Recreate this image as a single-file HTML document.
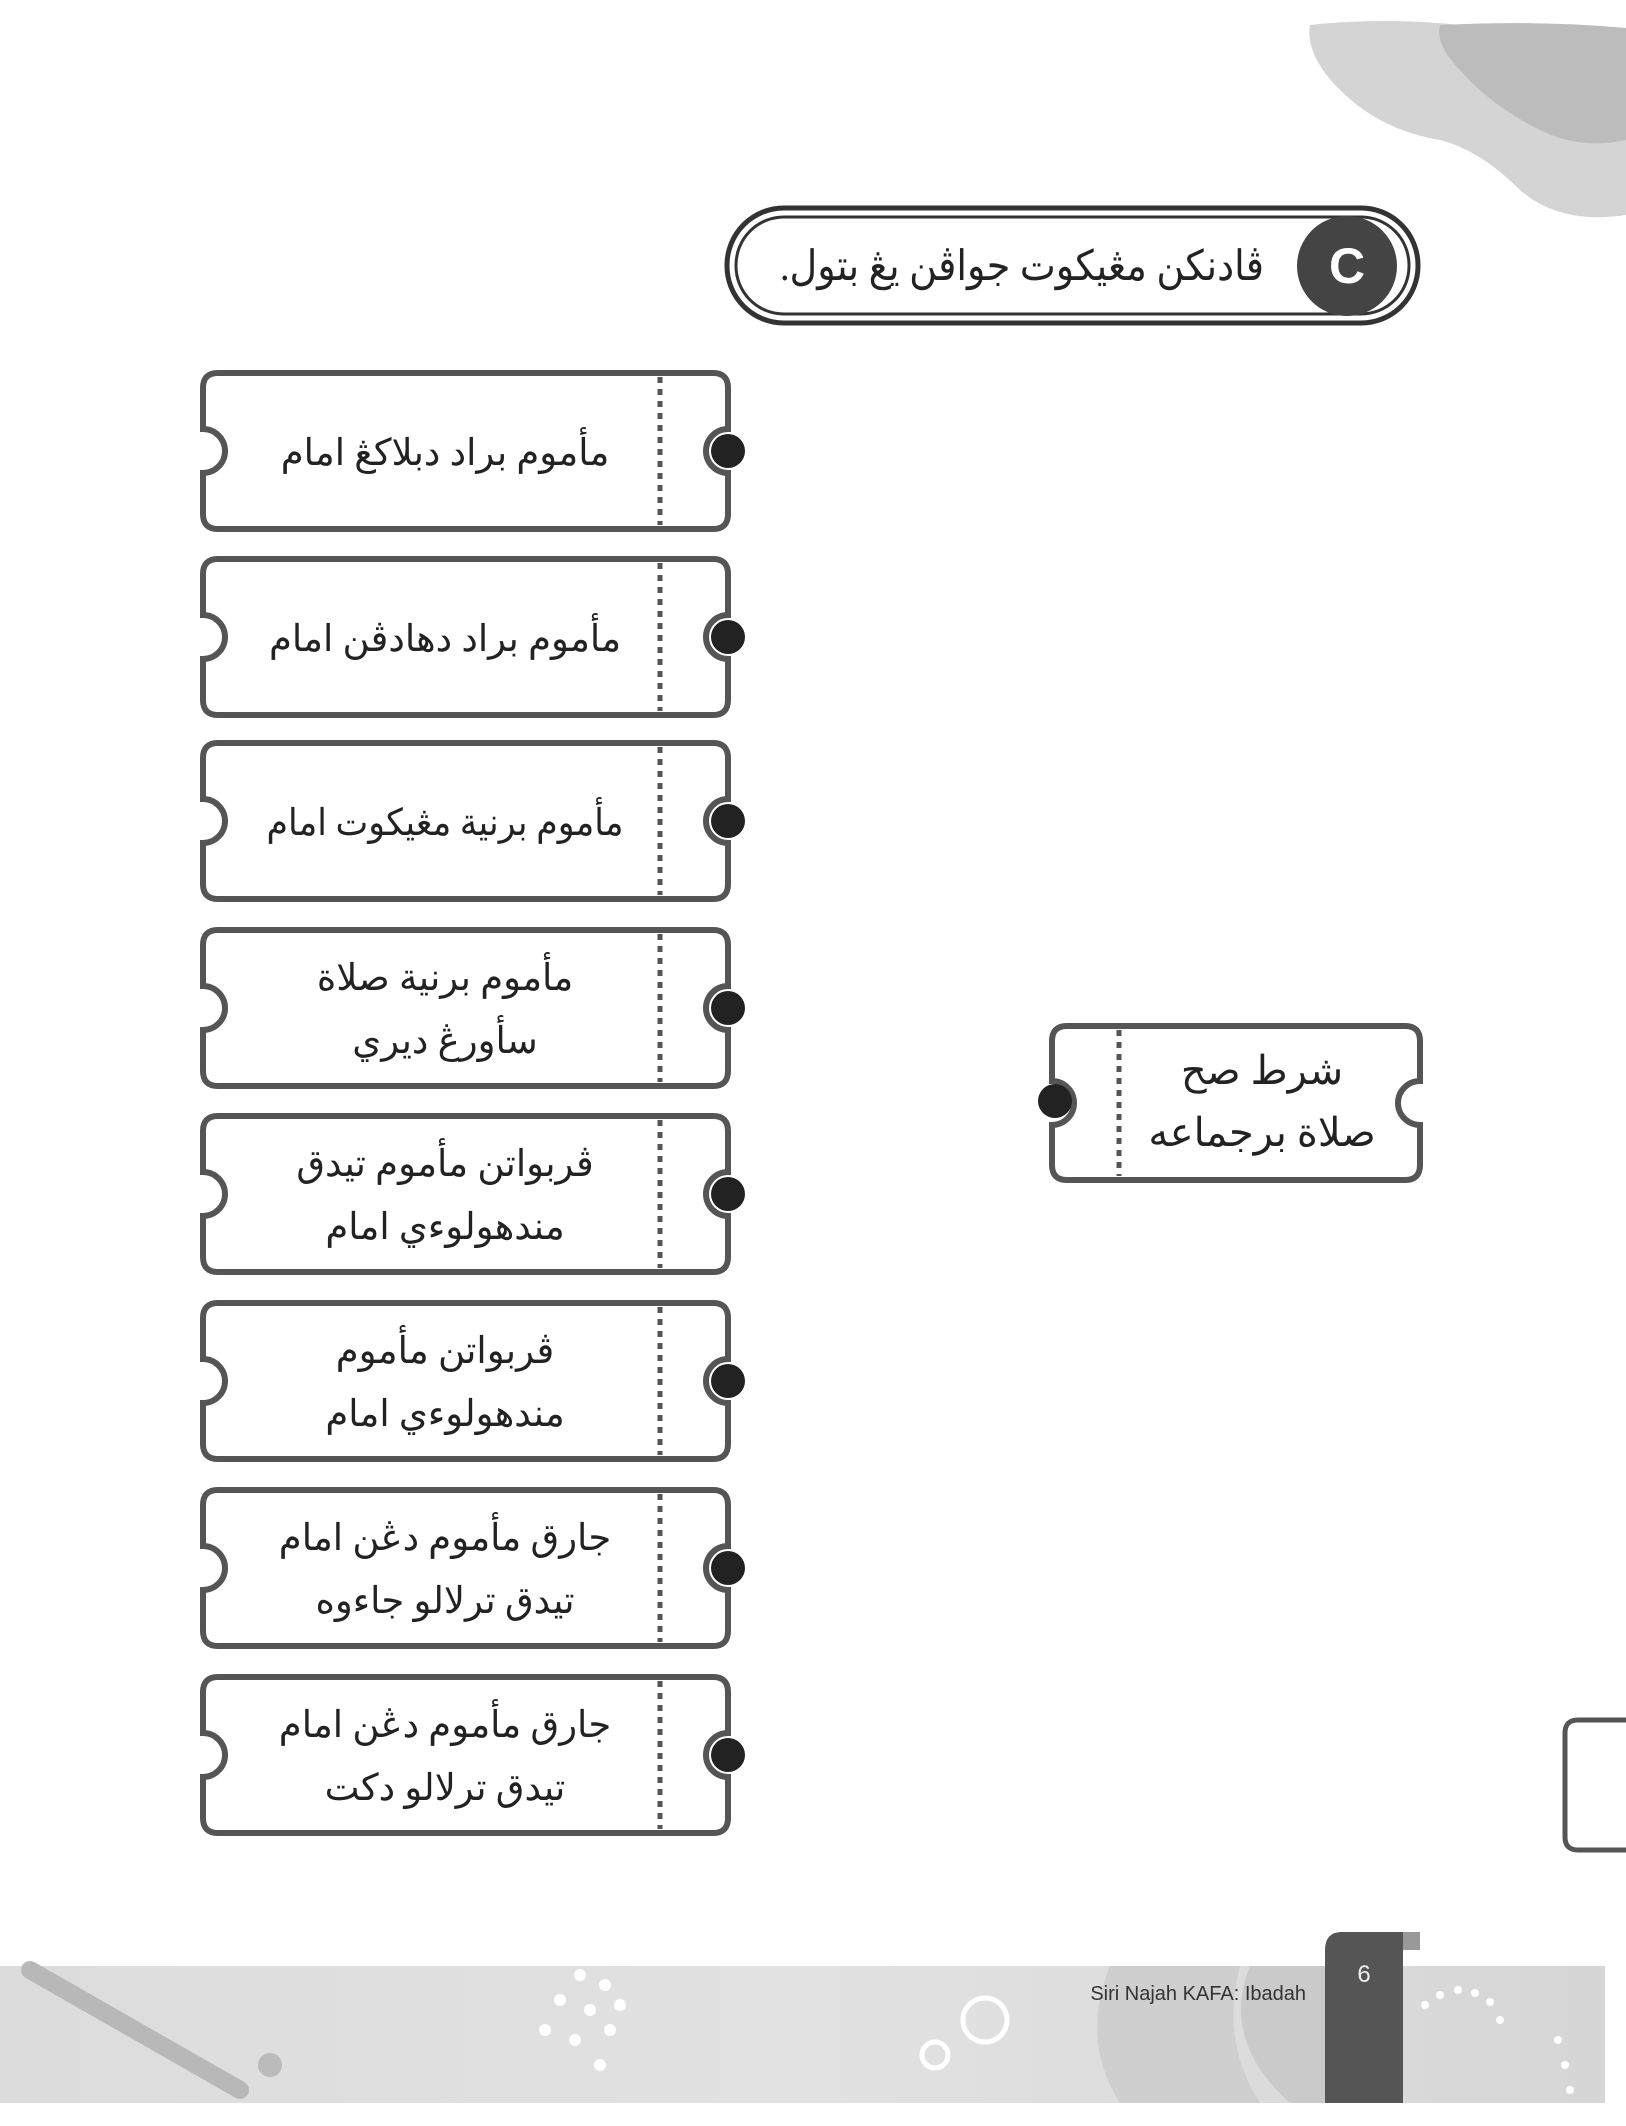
<!DOCTYPE html>
<html><head><meta charset="utf-8">
<style>
html,body{margin:0;padding:0;background:#fff;}
svg{display:block;}
.ar{font-family:"Liberation Serif","Noto Serif CJK SC","DejaVu Serif",serif;font-size:37px;fill:#222;}
</style></head>
<body>
<svg width="1626" height="2126" viewBox="0 0 1626 2126" xmlns="http://www.w3.org/2000/svg">
<defs>
<linearGradient id="bandg" x1="0" x2="1" y1="0" y2="0">
  <stop offset="0" stop-color="#dcdcdc"/><stop offset="0.5" stop-color="#e2e2e2"/><stop offset="1" stop-color="#d6d6d6"/>
</linearGradient>
</defs>

<path d="M1310 25 Q1400 15 1500 30 Q1600 40 1626 60 L1626 215 Q1560 225 1520 190 Q1480 150 1440 140 Q1380 130 1340 90 Q1305 55 1310 25 Z" fill="#d4d4d4"/>
<path d="M1440 25 Q1540 20 1626 28 L1626 140 Q1580 150 1540 130 Q1490 105 1460 70 Q1435 45 1440 25 Z" fill="#bcbcbc"/>

<rect x="727" y="208" width="691" height="115" rx="57" fill="none" stroke="#333" stroke-width="5"/>
<rect x="736" y="217" width="673" height="97" rx="48" fill="none" stroke="#333" stroke-width="3"/>
<circle cx="1347" cy="266" r="50" fill="#444"/>
<text x="1347" y="283" font-family="Liberation Sans,sans-serif" font-weight="bold" font-size="50" fill="#fff" text-anchor="middle">C</text>
<text x="1264" y="280" class="ar" style="font-size:42px" text-anchor="start" direction="rtl" textLength="484" lengthAdjust="spacingAndGlyphs">ڤادنكن مڠيكوت جواڤن يڠ بتول.</text>

<g transform="translate(0,373)">
<path d="M218 0 H713 Q728 0 728 15 V56 A22 22 0 0 0 728 100 V141 Q728 156 713 156 H218 Q203 156 203 141 V100 A22 22 0 0 0 203 56 V15 Q203 0 218 0 Z" fill="#fff" stroke="#555" stroke-width="6"/>
<line x1="660" y1="4" x2="660" y2="152" stroke="#555" stroke-width="5" stroke-dasharray="6,6"/>
<circle cx="728" cy="78" r="17" fill="#222"/>
<text x="445" y="92" class="ar" text-anchor="middle" direction="rtl">مأموم براد دبلاكڠ امام</text>
</g>
<g transform="translate(0,559)">
<path d="M218 0 H713 Q728 0 728 15 V56 A22 22 0 0 0 728 100 V141 Q728 156 713 156 H218 Q203 156 203 141 V100 A22 22 0 0 0 203 56 V15 Q203 0 218 0 Z" fill="#fff" stroke="#555" stroke-width="6"/>
<line x1="660" y1="4" x2="660" y2="152" stroke="#555" stroke-width="5" stroke-dasharray="6,6"/>
<circle cx="728" cy="78" r="17" fill="#222"/>
<text x="445" y="92" class="ar" text-anchor="middle" direction="rtl">مأموم براد دهادڤن امام</text>
</g>
<g transform="translate(0,743)">
<path d="M218 0 H713 Q728 0 728 15 V56 A22 22 0 0 0 728 100 V141 Q728 156 713 156 H218 Q203 156 203 141 V100 A22 22 0 0 0 203 56 V15 Q203 0 218 0 Z" fill="#fff" stroke="#555" stroke-width="6"/>
<line x1="660" y1="4" x2="660" y2="152" stroke="#555" stroke-width="5" stroke-dasharray="6,6"/>
<circle cx="728" cy="78" r="17" fill="#222"/>
<text x="445" y="92" class="ar" text-anchor="middle" direction="rtl" textLength="357" lengthAdjust="spacingAndGlyphs">مأموم برنية مڠيكوت امام</text>
</g>
<g transform="translate(0,930)">
<path d="M218 0 H713 Q728 0 728 15 V56 A22 22 0 0 0 728 100 V141 Q728 156 713 156 H218 Q203 156 203 141 V100 A22 22 0 0 0 203 56 V15 Q203 0 218 0 Z" fill="#fff" stroke="#555" stroke-width="6"/>
<line x1="660" y1="4" x2="660" y2="152" stroke="#555" stroke-width="5" stroke-dasharray="6,6"/>
<circle cx="728" cy="78" r="17" fill="#222"/>
<text x="445" y="60" class="ar" text-anchor="middle" direction="rtl">مأموم برنية صلاة</text>
<text x="445" y="123" class="ar" text-anchor="middle" direction="rtl">سأورڠ ديري</text>
</g>
<g transform="translate(0,1116)">
<path d="M218 0 H713 Q728 0 728 15 V56 A22 22 0 0 0 728 100 V141 Q728 156 713 156 H218 Q203 156 203 141 V100 A22 22 0 0 0 203 56 V15 Q203 0 218 0 Z" fill="#fff" stroke="#555" stroke-width="6"/>
<line x1="660" y1="4" x2="660" y2="152" stroke="#555" stroke-width="5" stroke-dasharray="6,6"/>
<circle cx="728" cy="78" r="17" fill="#222"/>
<text x="445" y="60" class="ar" text-anchor="middle" direction="rtl">ڤربواتن مأموم تيدق</text>
<text x="445" y="123" class="ar" text-anchor="middle" direction="rtl">مندهولوءي امام</text>
</g>
<g transform="translate(0,1303)">
<path d="M218 0 H713 Q728 0 728 15 V56 A22 22 0 0 0 728 100 V141 Q728 156 713 156 H218 Q203 156 203 141 V100 A22 22 0 0 0 203 56 V15 Q203 0 218 0 Z" fill="#fff" stroke="#555" stroke-width="6"/>
<line x1="660" y1="4" x2="660" y2="152" stroke="#555" stroke-width="5" stroke-dasharray="6,6"/>
<circle cx="728" cy="78" r="17" fill="#222"/>
<text x="445" y="60" class="ar" text-anchor="middle" direction="rtl">ڤربواتن مأموم</text>
<text x="445" y="123" class="ar" text-anchor="middle" direction="rtl">مندهولوءي امام</text>
</g>
<g transform="translate(0,1490)">
<path d="M218 0 H713 Q728 0 728 15 V56 A22 22 0 0 0 728 100 V141 Q728 156 713 156 H218 Q203 156 203 141 V100 A22 22 0 0 0 203 56 V15 Q203 0 218 0 Z" fill="#fff" stroke="#555" stroke-width="6"/>
<line x1="660" y1="4" x2="660" y2="152" stroke="#555" stroke-width="5" stroke-dasharray="6,6"/>
<circle cx="728" cy="78" r="17" fill="#222"/>
<text x="445" y="60" class="ar" text-anchor="middle" direction="rtl">جارق مأموم دڠن امام</text>
<text x="445" y="123" class="ar" text-anchor="middle" direction="rtl">تيدق ترلالو جاءوه</text>
</g>
<g transform="translate(0,1677)">
<path d="M218 0 H713 Q728 0 728 15 V56 A22 22 0 0 0 728 100 V141 Q728 156 713 156 H218 Q203 156 203 141 V100 A22 22 0 0 0 203 56 V15 Q203 0 218 0 Z" fill="#fff" stroke="#555" stroke-width="6"/>
<line x1="660" y1="4" x2="660" y2="152" stroke="#555" stroke-width="5" stroke-dasharray="6,6"/>
<circle cx="728" cy="78" r="17" fill="#222"/>
<text x="445" y="60" class="ar" text-anchor="middle" direction="rtl">جارق مأموم دڠن امام</text>
<text x="445" y="123" class="ar" text-anchor="middle" direction="rtl">تيدق ترلالو دكت</text>
</g>

<g transform="translate(0,1026)">
<path d="M1067 0 H1405 Q1420 0 1420 15 V55 A22 22 0 0 0 1420 99 V139 Q1420 154 1405 154 H1067 Q1052 154 1052 139 V99 A22 22 0 0 0 1052 55 V15 Q1052 0 1067 0 Z" fill="#fff" stroke="#555" stroke-width="6"/>
<line x1="1119" y1="4" x2="1119" y2="150" stroke="#555" stroke-width="5" stroke-dasharray="6,6"/>
<circle cx="1055" cy="75" r="17" fill="#222"/>
<text x="1262" y="58" class="ar" style="font-size:40px" text-anchor="middle" direction="rtl">شرط صح</text>
<text x="1262" y="120" class="ar" style="font-size:40px" text-anchor="middle" direction="rtl">صلاة برجماعه</text>
</g>

<path d="M1626 1720 H1578 Q1565 1720 1565 1733 V1837 Q1565 1850 1578 1850 H1626" fill="#fff" stroke="#555" stroke-width="5"/>

<rect x="0" y="1966" width="1605" height="137" fill="url(#bandg)"/>
<path d="M1110 1966 Q1080 2040 1120 2103 H1260 Q1220 2040 1240 1966 Z" fill="#cfcfcf"/>
<path d="M1250 1966 Q1220 2040 1290 2103 H1325 V1966 Z" fill="#cacaca"/>
<line x1="30" y1="1970" x2="240" y2="2090" stroke="#b8b8b8" stroke-width="18" stroke-linecap="round"/>
<circle cx="270" cy="2065" r="12" fill="#bbb"/>
<g fill="#fff">
<circle cx="580" cy="1975" r="6"/><circle cx="605" cy="1985" r="6"/><circle cx="560" cy="2000" r="6"/>
<circle cx="590" cy="2010" r="6"/><circle cx="620" cy="2005" r="6"/><circle cx="545" cy="2030" r="6"/>
<circle cx="575" cy="2040" r="6"/><circle cx="610" cy="2030" r="6"/><circle cx="600" cy="2065" r="6"/>
</g>
<circle cx="985" cy="2020" r="22" fill="none" stroke="#fff" stroke-width="5"/>
<circle cx="935" cy="2055" r="13" fill="none" stroke="#fff" stroke-width="5"/>
<g fill="#fff">
<circle cx="1425" cy="2005" r="4"/><circle cx="1440" cy="1995" r="4"/><circle cx="1458" cy="1990" r="4"/>
<circle cx="1475" cy="1993" r="4"/><circle cx="1490" cy="2002" r="4"/><circle cx="1500" cy="2020" r="4"/>
<circle cx="1558" cy="2040" r="4"/><circle cx="1565" cy="2065" r="4"/><circle cx="1570" cy="2090" r="4"/>
</g>
<text x="1306" y="2000" font-family="Liberation Sans,sans-serif" font-size="20" fill="#333" text-anchor="end">Siri Najah KAFA: Ibadah</text>
<path d="M1340 1932 H1420 V1950 H1340 Z" fill="#999"/>
<path d="M1325 2103 V1950 Q1325 1932 1342 1932 H1403 V2103 Z" fill="#555"/>
<text x="1364" y="1982" font-family="Liberation Sans,sans-serif" font-size="24" fill="#eee" text-anchor="middle">6</text>
</svg>
</body></html>
